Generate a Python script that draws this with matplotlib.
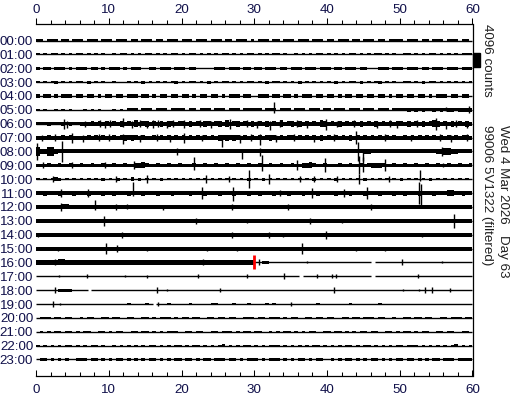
import numpy as np
import matplotlib.pyplot as plt
from matplotlib.patches import Rectangle
from matplotlib.ticker import MultipleLocator

plt.rcParams['font.family'] = ['Liberation Sans', 'DejaVu Sans']

hours = [f"{h:02d}:00" for h in range(24)]
minute_ticks = [0, 10, 20, 30, 40, 50, 60]
counts_per_row = 4096
level_counts = 150
scale_counts = 4096
now_row, now_minute = 16, 30

# envelope half-height per half minute (digit * level_counts), one string per hour
levels = [
    "33033303303330333033" "30333033033303303330" "33303330333033033303" "03330330333033303330" "33033303303330330333" "30333033033303330330",
    "20202202020220202020" "02022020202202020220" "20220202020220202022" "02020220200202020220" "20202022020202202020" "02202020220202020222",
    "30330333030333033030" "33303033300330333033" "30331000033303330330" "33033303303330333033" "30330333033000333033" "30333033033303330333",
    "20202302020220302020" "02000202030202020230" "20220203020220202022" "02030220202030202020" "20302022030202302020" "02202030220202020202",
    "30330303330330330303" "30330333033030330330" "33030330330303330330" "03330330330303330330" "33030330330330330303" "30330330303330330330",
    "20200202020002020200" "02020333033303330333" "30330333033303330333" "33033303330333033303" "30333033303330333033" "33434343343434434444",
    "33343334343344454545" "45464547456454646545" "54645465456474564546" "45464547456464545476" "45464545464546454545" "54645464576454645464",
    "44454445454444545454" "45456565454454545454" "54545454546565654545" "45456545455454545464" "54545464545454545454" "45454545454545454554",
    "85588544444444444444" "44444444444444444444" "44444444444444444444" "44444444444444444444" "44444444445544444444" "44444444445577554444",
    "33343343343343343343" "34334335564334334334" "33343343343343343343" "34334334334335564334" "33343343343455543343" "34334334334334334334",
    "20202430202020202030" "20302040302020302020" "20202020202020202030" "20302020202020203020" "20302020203020202020" "30202020302020202020",
    "44544454445444544454" "45444544454445444544" "44544454445444544454" "45444544454445444544" "44544454445444544454" "45444544454446644544",
    "44444445544444444444" "44444444444444444444" "44444444444444444444" "44444444444444444444" "44444444444444444444" "44444444444444444444",
    "44444444444444444444" "44444444444444444444" "44444444444444444444" "44444444444444444444" "44444444444444444444" "44444444444444444444",
    "44444444444444444444" "44444444444444444444" "44444444444444444444" "44444444444444444444" "44444444444444444444" "44444444444444444444",
    "44444444444444444444" "44444444444444444444" "44444444444444444444" "44444444444444444444" "44444444444444444444" "44444444444444444444",
    "55555566555555555555" "55555555555555555555" "55555555555555555555" "00330000000000000000" "00000000000000000000" "00000000000000000000",
    "00000000000000000000" "00000000000000000000" "00000000000000000000" "00000000000000000000" "00000000000000000000" "00000000000000000000",
    "00000033330000000000" "00000000000000000000" "00000000000000000000" "00000000000000000000" "00000000000000000000" "00000000000000000000",
    "00000000000000000000" "00000200002000002000" "00200000220000200020" "00020200000000000200" "00000020000000200000" "00000000000000000000",
    "02220220220020220022" "02200220022020222020" "22022002202202200222" "02202220202200220220" "22002202202220220020" "02202202200220222022",
    "02020220220202200220" "20220022022020202220" "02202200220222020220" "22002020220202022002" "20220202022022002202" "02202022002202200220",
    "20202020220202022020" "02020202020220202022" "02022020202302020220" "20202220202020202202" "02020220202202020202" "20222020202020230202",
    "02202020200222022020" "20220202020220202022" "02202022022202202022" "20202220202022020220" "02020220202022020202" "20220202022022202222",
]

# single spikes: (minute, up counts, down counts)
spikes = [
    [], [], [], [], [],
    [(32.7, 2400, 900), (56.3, 900, 300), (59.5, 1200, 900)],
    [(3.8, 1500, 1500), (4.2, 900, 1200), (6.7, 900, 900), (8.8, 1200, 900), (9.5, 900, 1200),
     (10.2, 1200, 900), (12.0, 1800, 900), (13.2, 900, 1200), (14.3, 1200, 900), (15.2, 900, 1200),
     (16.1, 1200, 1200), (16.8, 1200, 900), (18.0, 900, 1200), (18.9, 1200, 900), (20.3, 1200, 1200),
     (22.6, 1200, 900), (24.0, 900, 1200), (26.7, 1500, 1500), (29.0, 1200, 900), (30.4, 900, 1200),
     (32.2, 900, 1800), (33.6, 1200, 900), (35.9, 1200, 900), (37.2, 900, 1200), (39.8, 1500, 1800),
     (41.4, 900, 900), (43.7, 1200, 900), (46.9, 900, 1200), (48.7, 1200, 900), (49.6, 900, 1200),
     (52.4, 1200, 900), (55.0, 1800, 1800), (56.3, 900, 1500), (57.7, 1200, 900), (59.3, 900, 1200)],
    [(0.8, 900, 900), (2.6, 1200, 900), (4.9, 1500, 1500), (6.5, 900, 1200), (8.6, 1200, 900),
     (10.0, 1200, 900), (12.0, 1200, 1800), (14.3, 900, 1200), (16.6, 1200, 900), (18.4, 900, 1200),
     (20.3, 1500, 1500), (22.8, 900, 900), (25.6, 900, 2700), (28.0, 900, 1500), (29.6, 1200, 900),
     (30.8, 1200, 2100), (33.0, 900, 1200), (35.5, 1200, 900), (38.2, 900, 1200), (41.0, 1200, 900),
     (44.0, 1800, 1800), (48.0, 1200, 900), (51.5, 900, 900), (55.6, 1200, 900), (57.0, 900, 1200),
     (59.3, 1200, 900)],
    [(0.2, 2400, 2400), (3.6, 3000, 3000), (19.4, 900, 900), (28.3, 600, 2100), (30.8, 900, 1200),
     (44.3, 2700, 2700), (44.9, 600, 2700), (55.8, 1200, 1200)],
    [(1.0, 900, 900), (5.0, 900, 900), (9.5, 900, 900), (13.5, 1200, 1200), (21.7, 2400, 1500),
     (31.0, 3000, 1800), (35.9, 1500, 1500), (39.7, 2100, 2100), (44.4, 2700, 2700), (45.0, 2400, 2100),
     (48.0, 1800, 1800), (56.0, 600, 600)],
    [(2.4, 900, 900), (11.0, 900, 900), (15.3, 1200, 1200), (23.3, 1200, 1200), (26.5, 900, 900),
     (29.3, 2700, 2700), (32.0, 1500, 1500), (36.3, 900, 900), (38.2, 900, 900), (41.4, 900, 900),
     (44.4, 1500, 1500), (48.5, 900, 900), (52.8, 2700, 600)],
    [(3.5, 1200, 1200), (7.2, 1200, 1200), (13.4, 3300, 900), (22.8, 1800, 1800), (27.1, 1800, 2400),
     (33.5, 900, 900), (38.0, 1500, 1500), (42.3, 1200, 1200), (45.5, 1800, 1800), (52.6, 3300, 3300),
     (52.9, 2700, 4200)],
    [(3.5, 1200, 1200), (8.1, 2100, 900), (11.0, 900, 900), (12.5, 900, 600), (17.5, 600, 900),
     (27.0, 900, 900), (34.6, 900, 900), (46.0, 900, 900)],
    [(9.3, 1500, 1500), (22.0, 900, 900), (29.0, 600, 600), (37.7, 900, 900), (42.0, 600, 600),
     (57.4, 2100, 2100)],
    [(0.3, 600, 600), (11.8, 900, 900), (27.0, 900, 900), (32.0, 900, 900), (34.0, 600, 600),
     (39.8, 1200, 1200), (53.0, 600, 600)],
    [(3.0, 600, 600), (9.6, 1500, 1500), (11.2, 900, 900), (15.3, 600, 600), (23.5, 600, 600),
     (27.6, 600, 600), (36.6, 1500, 1500), (44.0, 600, 600), (48.0, 600, 600)],
    [(2.6, 900, 900), (23.0, 900, 900), (25.3, 600, 600), (30.6, 900, 900), (37.2, 300, 300),
     (50.3, 900, 900), (55.8, 300, 300)],
    [(3.1, 300, 300), (7.0, 600, 600), (12.2, 300, 300), (15.2, 300, 600), (22.3, 600, 600),
     (29.0, 600, 600), (34.1, 900, 900), (38.6, 600, 600), (40.7, 600, 600), (41.2, 600, 600),
     (52.5, 600, 600)],
    [(2.6, 900, 900), (16.6, 900, 900), (18.0, 300, 300), (25.3, 600, 600), (40.9, 900, 900),
     (50.5, 300, 300), (52.6, 300, 300), (53.5, 900, 900), (54.4, 900, 900), (56.9, 600, 600)],
    [(2.3, 900, 900), (3.3, 300, 300), (16.8, 600, 600), (35.0, 600, 600)],
    [], [], [], [],
]

# breaks in the trace: (start minute, end minute)
gaps = {16: [(46.1, 46.6)], 17: [(36.2, 36.7), (46.1, 46.6)], 18: [(7.1, 7.6)], 19: [(16.1, 16.5)]}

fig = plt.figure(figsize=(5.12, 4.0), dpi=100)
ax = fig.add_axes([36 / 512, 24 / 400, 436.5 / 512, 352 / 400])

edges = np.arange(121) * 0.5
for r in range(24):
    lv = np.array([int(c) for c in levels[r]]) * level_counts / counts_per_row
    lv = np.append(lv, lv[-1])
    ax.fill_between(edges, r - lv, r + lv, step='post', color='black', lw=0)
    cuts = [0] + [v for g in gaps.get(r, []) for v in g] + [60]
    for a, b in zip(cuts[::2], cuts[1::2]):
        ax.plot([a, b], [r, r], color='black', lw=1.0, solid_capstyle='butt')
    for m, up, dn in spikes[r]:
        ax.vlines(m, r - up / counts_per_row, r + dn / counts_per_row, color='black', lw=1.0)

ax.vlines(now_minute, now_row - 0.5, now_row + 0.5, color='red', lw=2)

ax.set_xlim(0, 60)
ax.set_ylim(23 + 1.19, -1.19)

txt = '#10104a'
ax.set_yticks(range(24))
ax.set_yticklabels(hours, fontsize=9.6, color=txt)
ax.tick_params(axis='y', length=0, pad=2)

ax.set_xticks(minute_ticks)
ax.xaxis.set_minor_locator(MultipleLocator(2))
ax.tick_params(axis='x', which='both', direction='in', labelsize=9.6, labelcolor=txt, width=0.75, pad=6)
ax.tick_params(axis='x', which='major', length=4.5)
ax.tick_params(axis='x', which='minor', length=2.6)

top = ax.secondary_xaxis('top')
top.set_xticks(minute_ticks)
top.xaxis.set_minor_locator(MultipleLocator(2))
top.tick_params(axis='x', which='both', direction='out', labelsize=9.6, labelcolor=txt, width=0.75, pad=1)
top.tick_params(axis='x', which='major', length=4.5)
top.tick_params(axis='x', which='minor', length=2.6)
top.spines['top'].set_linewidth(0.9)

ax.spines['left'].set_visible(False)
ax.spines['top'].set_visible(False)
for s in ['bottom', 'right']:
    ax.spines[s].set_linewidth(0.9)

# scale bar beside the first rows
ax.add_patch(Rectangle((60.1, 0.9), 0.95, scale_counts / counts_per_row, color='black', clip_on=False))

fig.text(487 / 512, 1 - 24 / 400, f"{scale_counts} counts", rotation=-90, ha='center', va='top',
         fontsize=9.6, color='#202020')
fig.text(503 / 512, 1 - 125 / 400, "Wed 4 Mar 2026   Day 63", rotation=-90, ha='center', va='top',
         fontsize=9.6, color='#202020')
fig.text(487 / 512, 1 - 125 / 400, "99006 5V1322 (filtered)", rotation=-90, ha='center', va='top',
         fontsize=9.6, color='#202020')

fig.savefig('out.png', dpi=100)
